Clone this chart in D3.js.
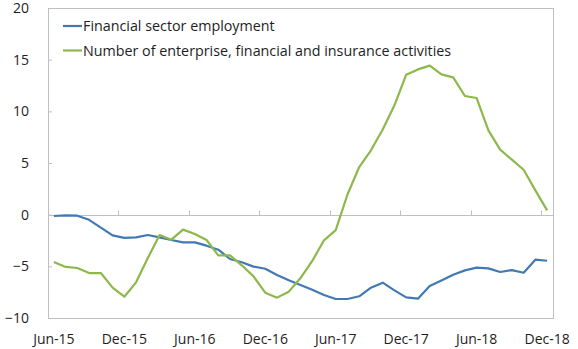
<!DOCTYPE html>
<html>
<head>
<meta charset="utf-8">
<script src="https://cdn.jsdelivr.net/npm/d3@7"></script>
<style>
  html, body { margin: 0; padding: 0; background: #fff; }
  svg { display: block; font-family: "Open Sans", "Noto Sans", sans-serif; }
</style>
</head>
<body>
<svg id="chart" width="578" height="349"></svg>
<script>
// Monthly categories, Jun-15 .. Dec-18
const months = [
  "Jun-15","Jul-15","Aug-15","Sep-15","Oct-15","Nov-15","Dec-15",
  "Jan-16","Feb-16","Mar-16","Apr-16","May-16","Jun-16","Jul-16","Aug-16","Sep-16","Oct-16","Nov-16","Dec-16",
  "Jan-17","Feb-17","Mar-17","Apr-17","May-17","Jun-17","Jul-17","Aug-17","Sep-17","Oct-17","Nov-17","Dec-17",
  "Jan-18","Feb-18","Mar-18","Apr-18","May-18","Jun-18","Jul-18","Aug-18","Sep-18","Oct-18","Nov-18","Dec-18"
];

// Labelled months on the category axis
const tickMonths = ["Jun-15","Dec-15","Jun-16","Dec-16","Jun-17","Dec-17","Jun-18","Dec-18"];
const yTicks = [-10, -5, 0, 5, 10, 15, 20];

// Year-on-year change, %
const employment = [
  -0.13, -0.06, -0.10, -0.50, -1.25, -2.00, -2.25, -2.20, -1.97, -2.20, -2.45, -2.68, -2.68,
  -3.00, -3.39, -4.29, -4.61, -5.03, -5.23, -5.84, -6.35, -6.81, -7.26, -7.77, -8.16, -8.16, -7.90,
  -7.07, -6.58, -7.33, -8.00, -8.13, -6.91, -6.36, -5.81, -5.39, -5.13, -5.20, -5.55, -5.36, -5.62, -4.36, -4.46
];
const enterprises = [
  -4.58, -5.06, -5.16, -5.65, -5.65, -7.06, -7.94, -6.55, -4.20, -1.97, -2.42, -1.45, -1.87,
  -2.45, -3.94, -3.94, -4.90, -5.97, -7.55, -8.03, -7.45, -6.13, -4.48, -2.48, -1.50,
  1.95, 4.61, 6.23, 8.25, 10.58, 13.55, 14.06, 14.42, 13.58, 13.29, 11.48, 11.29, 8.16, 6.29, 5.32, 4.35, 2.35, 0.42
];

const seriesNames = ["Financial sector employment", "Number of enterprise, financial and insurance activities"];
const seriesColors = ["#4279b3", "#8db84b"];

const svg = d3.select("#chart");
const plot = { left: 48, right: 553, top: 8, bottom: 318 };
const frameColor = "#bfbfbf";
const textColor = "#1e1e1e";

const x = d3.scaleBand().domain(months).range([plot.left, plot.right]).padding(0);
const y = d3.scaleLinear().domain([-10, 20]).range([plot.bottom, plot.top]);
const cx = m => x(m) + x.bandwidth() / 2;

// Plot frame
svg.append("rect")
  .attr("x", plot.left).attr("y", plot.top)
  .attr("width", plot.right - plot.left).attr("height", plot.bottom - plot.top)
  .attr("fill", "none").attr("stroke", frameColor).attr("stroke-width", 1)
  .attr("shape-rendering", "crispEdges");

// Value axis
const yAxis = d3.axisLeft(y).tickValues(yTicks).tickSize(-4).tickPadding(19).tickFormat(d3.format("d"));
const gy = svg.append("g").attr("transform", `translate(${plot.left},0)`).call(yAxis);
gy.select(".domain").attr("stroke", frameColor);
gy.selectAll(".tick line").attr("stroke", frameColor);
gy.selectAll(".tick text").attr("fill", textColor).style("font-size", "14px")
  .style("font-family", "'Open Sans', 'Noto Sans', sans-serif");

// Category axis line along zero, with boundary ticks every six months
const zeroY = Math.round(y(0)) + 0.5;
svg.append("line")
  .attr("x1", plot.left).attr("x2", plot.right)
  .attr("y1", zeroY).attr("y2", zeroY)
  .attr("stroke", frameColor).attr("stroke-width", 1);

const boundaryTicks = tickMonths.slice(1);
svg.append("g").selectAll("line").data(boundaryTicks).join("line")
  .attr("x1", d => Math.round(x(d)) + 0.5).attr("x2", d => Math.round(x(d)) + 0.5)
  .attr("y1", zeroY - 5).attr("y2", zeroY)
  .attr("stroke", frameColor).attr("stroke-width", 1);

// Category labels along the bottom
svg.append("g").selectAll("text").data(tickMonths).join("text")
  .attr("x", d => cx(d)).attr("y", 344)
  .attr("text-anchor", "middle")
  .attr("fill", textColor).style("font-size", "14px")
  .text(d => d);

// Series lines
const line = d3.line().x((d, i) => cx(months[i])).y(d => y(d)).curve(d3.curveLinear);
[employment, enterprises].forEach((vals, k) => {
  svg.append("path")
    .datum(vals)
    .attr("d", line)
    .attr("fill", "none")
    .attr("stroke", seriesColors[k])
    .attr("stroke-width", 2.2)
    .attr("stroke-linejoin", "round");
});

// Legend
const legend = svg.append("g");
seriesNames.forEach((name, k) => {
  const ly = 26 + k * 24.5;
  legend.append("line")
    .attr("x1", 63).attr("x2", 82).attr("y1", ly).attr("y2", ly)
    .attr("stroke", seriesColors[k]).attr("stroke-width", 2.2);
  legend.append("text")
    .attr("x", 83).attr("y", ly + 5)
    .attr("fill", textColor).style("font-size", "14.3px")
    .text(name);
});
</script>
</body>
</html>
